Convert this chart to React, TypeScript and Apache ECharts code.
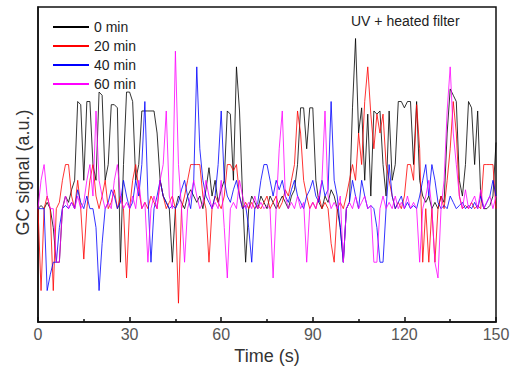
import React, { useEffect, useRef } from "react";
import * as echarts from "echarts";

const seriesNames = ["0 min", "20 min", "40 min", "60 min"];
const seriesColors = ["#000000", "#ff0000", "#0000ff", "#ff00ff"];
const xTicks = [0, 30, 60, 90, 120, 150];

const black0 = [
  36, 37, 36, 38, 36, 30, 19, 19, 36, 40, 38, 42, 45, 70, 69, 45, 70, 70, 50, 45,
  73, 72, 45, 50, 69, 69, 68, 19, 50, 73, 73, 70, 45, 50, 67, 67, 67, 67, 67, 60,
  45, 40, 38, 36, 19, 36, 40, 38, 36, 40, 42, 40, 38, 40, 36, 42, 49, 40, 45, 38,
  42, 45, 67, 66, 45, 81, 67, 40, 19, 36, 40, 38, 36, 40, 38, 36, 40, 38, 36, 38,
  40, 38, 36, 40, 42, 50, 68, 68, 55, 68, 68, 45, 38, 36, 40, 38, 42, 40, 36, 30,
  19, 36, 38, 68, 90, 60, 68, 45, 66, 40, 67, 66, 67, 50, 40, 67, 45, 50, 70, 70,
  68, 70, 70, 50, 70, 45, 40, 38, 40, 36, 38, 36, 40, 38, 60, 74, 72, 70, 45, 40,
  50, 70, 68, 50, 67, 40, 36, 36, 37, 40, 57,
];

const red20 = [
  36, 10, 36, 40, 36, 10, 36, 38, 45, 50, 50, 40, 36, 45, 36, 20, 36, 45, 50, 40,
  36, 40, 45, 36, 38, 42, 36, 40, 36, 14, 36, 45, 50, 42, 36, 38, 36, 40, 38, 36,
  45, 40, 36, 38, 40, 36, 6, 36, 40, 45, 50, 50, 50, 50, 40, 36, 19, 36, 40, 38,
  36, 40, 50, 50, 48, 50, 40, 36, 38, 36, 38, 36, 37, 36, 38, 40, 36, 38, 40, 36,
  38, 42, 40, 45, 50, 67, 60, 45, 40, 36, 38, 36, 40, 36, 38, 36, 25, 19, 36, 38,
  36, 40, 45, 50, 45, 60, 50, 70, 81, 66, 55, 66, 60, 66, 50, 45, 40, 36, 38, 36,
  40, 50, 50, 45, 69, 55, 19, 36, 19, 36, 19, 36, 40, 36, 45, 55, 70, 60, 40, 36,
  37, 36, 38, 36, 37, 36, 50, 50, 50, 50, 36,
];

const blue40 = [
  36, 36, 36, 10, 15, 19, 19, 30, 36, 37, 36, 38, 36, 42, 38, 36, 40, 36, 36, 30,
  10, 25, 36, 38, 42, 40, 36, 38, 45, 40, 36, 38, 45, 40, 50, 70, 40, 19, 36, 40,
  45, 40, 38, 36, 37, 36, 38, 42, 45, 40, 36, 45, 81, 55, 45, 40, 38, 36, 40, 50,
  67, 45, 40, 38, 42, 45, 40, 36, 37, 30, 19, 36, 38, 45, 50, 50, 45, 40, 45, 42,
  45, 40, 38, 42, 45, 40, 38, 36, 40, 42, 45, 40, 38, 45, 40, 42, 70, 45, 40, 30,
  19, 36, 38, 45, 40, 36, 45, 40, 36, 37, 36, 30, 19, 19, 36, 50, 40, 36, 38, 40,
  36, 38, 36, 37, 36, 40, 45, 50, 40, 50, 45, 38, 36, 37, 36, 40, 38, 36, 37, 38,
  36, 37, 36, 38, 36, 40, 36, 38, 40, 45, 40,
];

const magenta60 = [
  36, 45, 50, 40, 36, 36, 19, 19, 36, 40, 36, 38, 36, 40, 36, 38, 45, 50, 40, 67,
  45, 40, 36, 38, 36, 45, 50, 40, 36, 38, 36, 40, 36, 45, 36, 38, 19, 36, 40, 36,
  45, 50, 67, 40, 36, 86, 50, 36, 19, 36, 40, 45, 40, 36, 38, 45, 40, 36, 38, 36,
  45, 30, 14, 36, 38, 36, 45, 40, 36, 38, 36, 40, 36, 38, 36, 37, 36, 14, 36, 55,
  67, 40, 36, 38, 36, 40, 36, 38, 19, 36, 38, 36, 40, 45, 67, 40, 36, 38, 36, 40,
  19, 36, 38, 36, 40, 36, 38, 40, 36, 37, 19, 19, 36, 40, 36, 38, 36, 40, 36, 38,
  36, 40, 36, 38, 36, 19, 36, 40, 45, 36, 19, 14, 36, 45, 67, 81, 60, 50, 40, 36,
  42, 36, 38, 40, 36, 42, 36, 38, 40, 36, 40,
];

const allData = [black0, red20, blue40, magenta60];

export default function App() {
  const ref = useRef<HTMLDivElement>(null);
  useEffect(() => {
    if (!ref.current) return;
    const chart = echarts.init(ref.current, null, { renderer: "svg" });
    const font = "Arial, 'Liberation Sans', sans-serif";
    chart.setOption({
      animation: false,
      backgroundColor: "#ffffff",
      grid: {
        left: 38,
        right: 21,
        top: 7,
        bottom: 40,
        show: true,
        borderColor: "#111",
        borderWidth: 1.5,
      },
      legend: {
        orient: "vertical",
        left: 48,
        top: 15,
        itemGap: 5,
        itemWidth: 36,
        itemHeight: 2,
        icon: "rect",
        data: seriesNames,
        textStyle: { fontFamily: font, fontSize: 14, color: "#222" },
      },
      graphic: [
        {
          type: "text",
          left: 351,
          top: 14,
          style: {
            text: "UV + heated filter",
            font: `14px ${font}`,
            fill: "#222",
          },
        },
      ],
      xAxis: {
        type: "value",
        min: 0,
        max: 150,
        interval: 30,
        name: "Time (s)",
        nameLocation: "middle",
        nameGap: 13,
        nameTextStyle: { fontFamily: font, fontSize: 18, color: "#333" },
        axisLine: { show: true, lineStyle: { color: "#111", width: 1.5 } },
        axisTick: { show: true, inside: true, length: 5, lineStyle: { color: "#111", width: 1.5 } },
        minorTick: { show: true, splitNumber: 2, length: 3, lineStyle: { color: "#111", width: 1.5 } },
        axisLabel: {
          fontFamily: font,
          fontSize: 16,
          color: "#555",
          margin: 4,
          formatter: (v: number) => (xTicks.includes(v) ? String(v) : ""),
        },
        splitLine: { show: false },
      },
      yAxis: {
        type: "value",
        min: 0,
        max: 100,
        name: "GC signal (a.u.)",
        nameLocation: "middle",
        nameGap: 6,
        nameTextStyle: {
          fontFamily: font,
          fontSize: 18,
          color: "#333",
          padding: [0, 16, 0, 0],
        },
        axisLine: { show: true, lineStyle: { color: "#111", width: 1.5 } },
        axisTick: { show: false },
        axisLabel: { show: false },
        splitLine: { show: false },
      },
      series: seriesNames.map((name, i) => ({
        name,
        type: "line",
        data: allData[i].map((v, t) => [t, v]),
        showSymbol: false,
        symbol: "none",
        color: seriesColors[i],
        lineStyle: { width: 1, color: seriesColors[i], opacity: 0.8 },
      })),
    });
    return () => chart.dispose();
  }, []);
  return (
    <div
      ref={ref}
      style={{ position: "fixed", left: 0, top: 0, width: 517, height: 370 }}
    />
  );
}
